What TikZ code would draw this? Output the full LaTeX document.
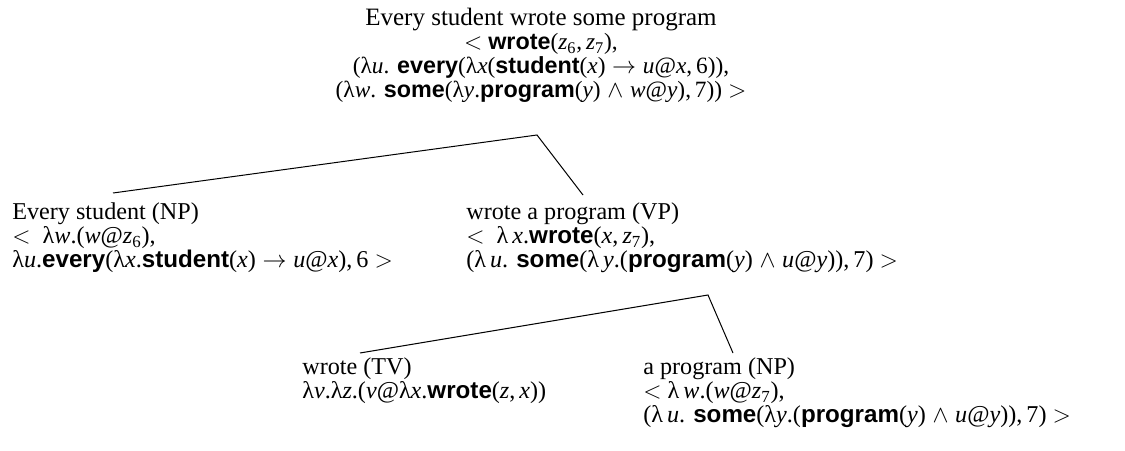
\documentclass[tikz,border=0pt]{standalone}
\usepackage{fontspec}
\setmainfont{Liberation Serif}
\setsansfont{Liberation Sans}
% predicate constants, variables, subscripts
\newcommand\Pd[1]{{\sffamily\bfseries #1}}
\newcommand\Vr[1]{\textit{#1}}
\newcommand\Sb[1]{\textsubscript{#1}}
\newcommand\Lm{λ}
\newcommand\Imp{$\;\rightarrow\;$}
\newcommand\Conj{$\;\wedge\;$}
% stacked lines with a fixed baseline distance; baseline = first line
\newcommand\LinesL[1]{\vtop{\baselineskip=14.4pt\lineskiplimit=-\maxdimen\lineskip=0pt
  \halign{##\hfil\cr#1\crcr}}}
\newcommand\LinesC[1]{\vtop{\baselineskip=14.4pt\lineskiplimit=-\maxdimen\lineskip=0pt
  \halign{\hfil##\hfil\cr#1\crcr}}}
\begin{document}
\begin{tikzpicture}[x=0.6pt,y=-0.6pt,
  lbl/.style={inner sep=0pt,font=\fontsize{14.5}{14.4}\selectfont},
  rootlbl/.style={inner sep=0pt,font=\fontsize{14}{14.4}\selectfont},
  branch/.style={line width=0.6pt}]
\useasboundingbox (0,0) rectangle (1125,451);

% root
\node[rootlbl,anchor=base] (root) at (541,26) {\LinesC{
{\fontsize{15}{14.4}\selectfont Every student wrote some program}\cr
$<$ \Pd{wrote}(\Vr{z}\Sb{6},\,\Vr{z}\Sb{7}),\cr
(\Lm\Vr{u}. \Pd{every}(\Lm\Vr{x}(\Pd{student}(\Vr{x})\Imp\Vr{u}@\Vr{x},\,6)),\cr
(\Lm\Vr{w}. \Pd{some}(\Lm\Vr{y}.\Pd{program}(\Vr{y})\Conj\Vr{w}@\Vr{y}),\,7)) $>$}};

% subject NP
\node[lbl,anchor=base west] (np1) at (12,220) {\LinesL{
Every student (NP)\cr
$<$\enspace\Lm\Vr{w}.(\Vr{w}@\Vr{z}\Sb{6}),\cr
\Lm\Vr{u}.\Pd{every}(\Lm\Vr{x}.\Pd{student}(\Vr{x})\Imp\Vr{u}@\Vr{x}),\,6 $>$}};

% VP
\node[lbl,anchor=base west] (vp) at (466,220) {\LinesL{
wrote a program (VP)\cr
$<$\enspace\Lm\,\Vr{x}.\Pd{wrote}(\Vr{x},\,\Vr{z}\Sb{7}),\cr
(\Lm\,\Vr{u}. \Pd{some}(\Lm\,\Vr{y}.(\Pd{program}(\Vr{y})\Conj\Vr{u}@\Vr{y})),\,7) $>$}};

% TV
\node[lbl,anchor=base west] (tv) at (302,375) {\LinesL{
wrote (TV)\cr
\Lm\Vr{v}.\Lm\Vr{z}.(\Vr{v}@\Lm\Vr{x}.\Pd{wrote}(\Vr{z},\,\Vr{x}))}};

% object NP
\node[lbl,anchor=base west] (np2) at (643,375) {\LinesL{
a program (NP)\cr
$<$ \Lm\,\Vr{w}.(\Vr{w}@\Vr{z}\Sb{7}),\cr
(\Lm\,\Vr{u}. \Pd{some}(\Lm\Vr{y}.(\Pd{program}(\Vr{y})\Conj\Vr{u}@\Vr{y})),\,7) $>$}};

% branch points
\coordinate (rootfoot) at (537,135);
\coordinate (np1top) at (113,193);
\coordinate (vptop) at (583,195);
\coordinate (vpfoot) at (708,295);
\coordinate (tvtop) at (360,353);
\coordinate (np2top) at (733,353);

\draw[branch] (np1top) -- (rootfoot) -- (vptop);
\draw[branch] (tvtop) -- (vpfoot) -- (np2top);
\end{tikzpicture}
\end{document}
